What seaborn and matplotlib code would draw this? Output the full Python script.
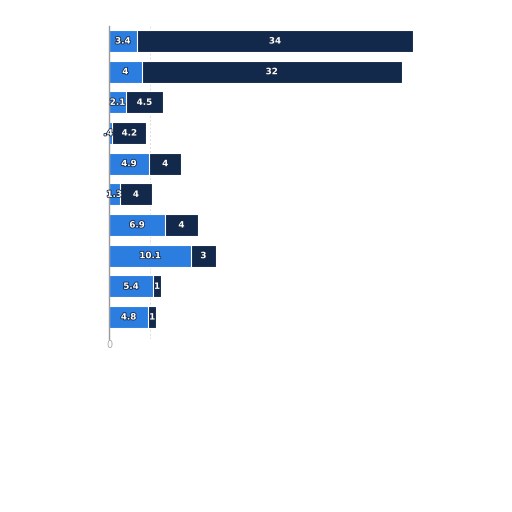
import matplotlib
matplotlib.use("Agg")
import matplotlib.pyplot as plt
import matplotlib.patheffects as pe
import seaborn as sns
import pandas as pd
import numpy as np

rows = ["r1", "r2", "r3", "r4", "r5", "r6", "r7", "r8", "r9", "r10"]
light_vals = [3.4, 4, 2.1, 0.4, 4.9, 1.3, 6.9, 10.1, 5.4, 4.8]
dark_vals = [34, 32, 4.5, 4.2, 4, 4, 4, 3, 1, 1]
light_labels = ["3.4", "4", "2.1", ".4", "4.9", "1.3", "6.9", "10.1", "5.4", "4.8"]
dark_labels = ["34", "32", "4.5", "4.2", "4", "4", "4", "3", "1", "1"]

LIGHT = "#2b7de0"
DARK = "#13294b"

sns.set_theme(style="white")
plt.rcParams['font.family'] = ['DejaVu Sans']

fig = plt.figure(figsize=(5.12, 5.12), dpi=100)
ax = fig.add_axes([0.213, 1 - 338.5 / 512, 0.75, (338.5 - 25.7) / 512])

df = pd.DataFrame({"row": rows, "light": light_vals, "dark": dark_vals})
df["total"] = df["light"] + df["dark"]

sns.barplot(data=df, y="row", x="total", color=DARK, orient="h", width=0.72,
            ax=ax, edgecolor="white", linewidth=0.8, saturation=1)
sns.barplot(data=df, y="row", x="light", color=LIGHT, orient="h", width=0.72,
            ax=ax, edgecolor="white", linewidth=0.8, saturation=1)

stroke = [pe.withStroke(linewidth=1.2, foreground="#1a2a44")]
for i in range(len(rows)):
    l = light_vals[i]
    d = dark_vals[i]
    lx = l / 2 if l >= 1 else -0.1
    ax.text(lx, i, light_labels[i], ha="center", va="center", color="white",
            fontsize=6.3, fontweight="bold", path_effects=stroke)
    ax.text(l + d / 2, i, dark_labels[i], ha="center", va="center", color="white",
            fontsize=6.3, fontweight="bold", path_effects=stroke)

ax.set_xlim(0, 47.2)
ax.set_ylim(9.7, -0.5)
ax.set_xticks([0, 5])
ax.set_xticklabels(["0", ""], fontsize=7, color="#aaaaaa")
ax.tick_params(axis="x", length=0, pad=1)
ax.set_yticks([])
ax.set_xlabel("")
ax.set_ylabel("")
ax.xaxis.grid(True, linestyle=(0, (2, 2)), color="#dddddd", linewidth=0.7)
ax.set_axisbelow(True)
for s in ["top", "right", "bottom"]:
    ax.spines[s].set_visible(False)
ax.spines["left"].set_color("#999999")
ax.spines["left"].set_linewidth(1.0)

fig.savefig("out.png", dpi=100)
